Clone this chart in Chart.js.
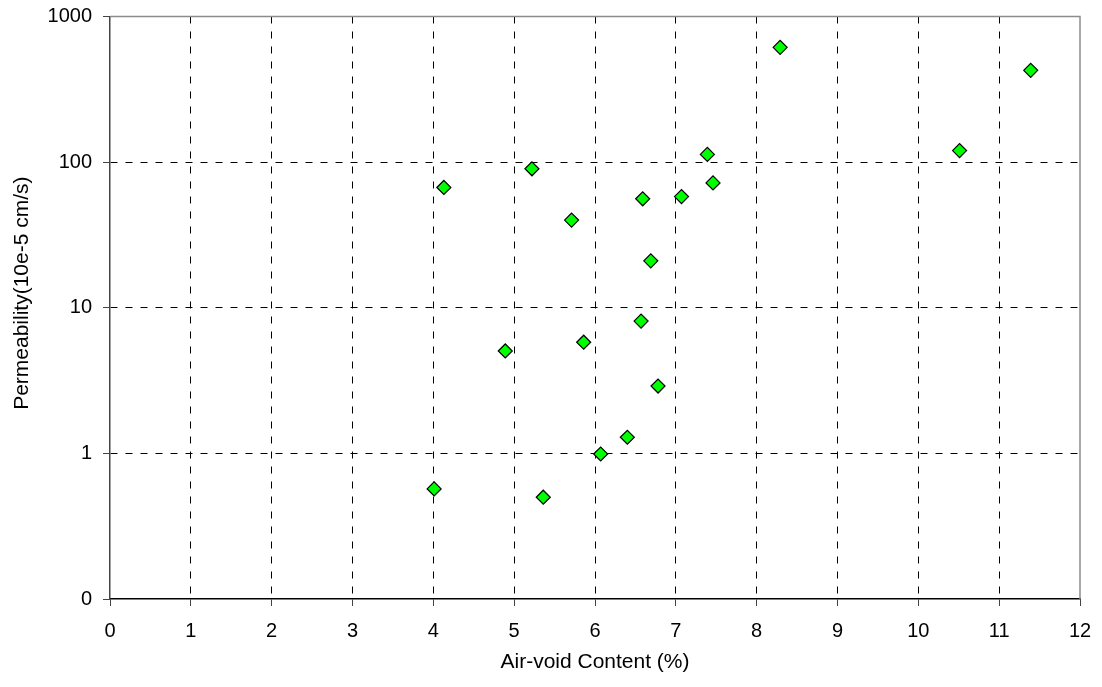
<!DOCTYPE html>
<html>
<head>
<meta charset="utf-8">
<script src="https://cdn.jsdelivr.net/npm/chart.js@4.4.1/dist/chart.umd.min.js"></script>
<style>
  html, body { margin: 0; padding: 0; background: #fff; }
  #wrap { width: 1102px; height: 687px; }
</style>
</head>
<body>
<div id="wrap"><canvas id="mychart1" width="1102" height="687"></canvas></div>
<script>
// air-void content (%) of each sample
var airVoid = [4.01, 4.13, 4.89, 5.22, 5.36, 5.71, 5.86, 6.07, 6.40, 6.59, 6.57, 6.69, 6.78, 7.07, 7.39, 7.46, 8.29, 10.51, 11.39];
// permeability (10e-5 cm/s)
var permeability = [0.57, 67, 5.05, 90, 0.50, 40, 5.8, 0.99, 1.29, 56, 8.1, 21, 2.9, 58, 113, 72, 614, 120, 427];

var xTicks = [0, 1, 2, 3, 4, 5, 6, 7, 8, 9, 10, 11, 12];
var yTicks = [0.1, 1, 10, 100, 1000];
var yTickLabels = ['0', '1', '10', '100', '1000'];

var points = [];
for (var i = 0; i < airVoid.length; i++) {
  points.push({x: airVoid[i], y: permeability[i]});
}

/* draws the top and right frame of the plot area */
var frame = {
  id: 'frame',
  beforeDatasetsDraw: function(chart){
    var a = chart.chartArea, ctx = chart.ctx;
    ctx.save();
    ctx.strokeStyle = '#8c8c8c';
    ctx.lineWidth = 1.5;
    ctx.beginPath();
    ctx.moveTo(a.left, a.top);
    ctx.lineTo(a.right, a.top);
    ctx.lineTo(a.right, a.bottom);
    ctx.stroke();
    ctx.restore();
  }
};

Chart.defaults.font.family = '"Liberation Sans", Arial, sans-serif';
Chart.defaults.font.size = 20;
Chart.defaults.color = '#000';

var ctx = document.getElementById('mychart1').getContext('2d');
var mychart = new Chart(ctx, {
  type: 'scatter',
  data: {
    datasets: [{
      label: 'Permeability',
      data: points,
      pointStyle: 'rectRot',
      pointRadius: 7,
      pointHoverRadius: 7,
      backgroundColor: '#00ff00',
      borderColor: '#000',
      borderWidth: 1.2
    }]
  },
  options: {
    responsive: false,
    animation: false,
    layout: { padding: { top: 16.5, right: 22, left: 0, bottom: 0 } },
    plugins: { legend: { display: false }, tooltip: { enabled: false } },
    scales: {
      x: {
        type: 'linear',
        min: 0, max: 12,
        afterBuildTicks: function(scale){ scale.ticks = xTicks.map(function(v){ return {value: v}; }); },
        afterFit: function(scale){ scale.height = 88; scale.paddingLeft = 0; scale.paddingRight = 0; },
        ticks: { padding: 13, maxRotation: 0, autoSkip: false },
        grid: {
          color: function(c){ return (c.index === 0 || c.index === xTicks.length - 1) ? 'rgba(0,0,0,0)' : '#000'; },
          tickColor: '#444',
          tickLength: 7,
          lineWidth: 1
        },
        border: { display: true, color: '#000', width: 1.5, dash: [7, 8] },
        title: { display: true, text: 'Air-void Content (%)', font: { size: 21 }, padding: { top: 4, bottom: 12 } }
      },
      y: {
        type: 'logarithmic',
        min: 0.1, max: 1000,
        afterBuildTicks: function(scale){ scale.ticks = yTicks.map(function(v){ return {value: v}; }); },
        afterFit: function(scale){ scale.width = 110; scale.paddingTop = 0; scale.paddingBottom = 0; },
        ticks: {
          padding: 11,
          autoSkip: false,
          callback: function(value, index){ return yTickLabels[index]; }
        },
        grid: {
          color: function(c){ return (c.index === 0 || c.index === yTicks.length - 1) ? 'rgba(0,0,0,0)' : '#000'; },
          tickColor: '#444',
          tickLength: 7,
          lineWidth: 1
        },
        border: { display: true, color: '#444', width: 1.5, dash: [7, 8] },
        title: { display: true, text: '     Permeability(10e-5 cm/s)', font: { size: 21 }, padding: { top: 10, bottom: 0 } }
      }
    }
  },
  plugins: [frame]
});
</script>
</body>
</html>
